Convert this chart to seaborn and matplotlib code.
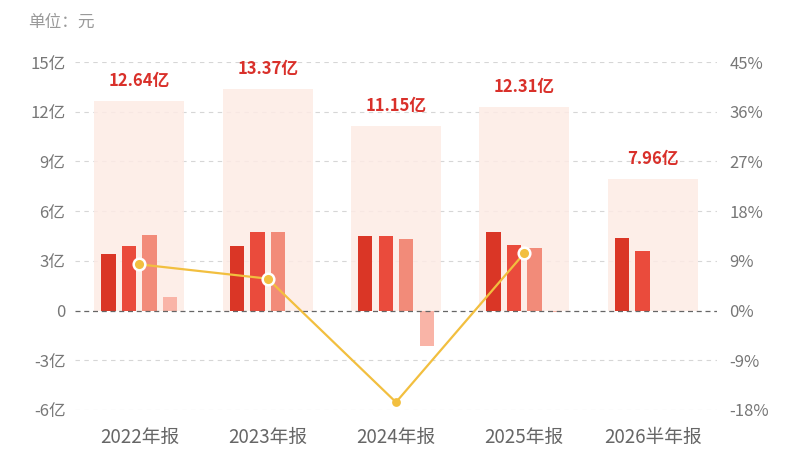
import matplotlib
matplotlib.use("Agg")
import matplotlib.pyplot as plt
import seaborn as sns
import numpy as np
import pandas as pd

# data (亿元 / %)
periods = ["2022年报", "2023年报", "2024年报", "2025年报", "2026半年报"]
totals = [12.64, 13.37, 11.15, 12.31, 7.96]
q1 = [3.41, 3.87, 4.51, 4.74, 4.37]
q2 = [3.88, 4.76, 4.49, 3.93, 3.59]
q3 = [4.54, 4.77, 4.30, 3.75, np.nan]
q4 = [0.81, -0.03, -2.15, -0.11, np.nan]
growth = [8.37, 5.78, -16.60, 10.40]

left_ticks = [-6, -3, 0, 3, 6, 9, 12, 15]
right_ticks = [-18, -9, 0, 9, 18, 27, 36, 45]

sns.set_theme(style="white")
plt.rcParams["font.family"] = ["Noto Sans CJK SC", "DejaVu Sans"]

quarters = ["Q1", "Q2", "Q3", "Q4"]
rows = []
for i, p in enumerate(periods):
    for qn, vals in zip(quarters, [q1, q2, q3, q4]):
        rows.append({"period": p, "quarter": qn, "value": vals[i]})
qdf = pd.DataFrame(rows)
tdf = pd.DataFrame({"period": periods, "total": totals})

fig = plt.figure(figsize=(8, 4.5), dpi=100)
ax = fig.add_axes([0.094, 0.089, 0.802, 0.773])

# grid
for t in left_ticks:
    if t == 0:
        continue
    ax.axhline(t, color="#d6d6d6", lw=0.8, ls=(0, (4, 4)), zorder=0.5)

# background totals
sns.barplot(data=tdf, x="period", y="total", color="#fdebe5", width=0.70,
            saturation=1, linewidth=0, alpha=0.85, ax=ax, zorder=1)

# quarterly bars
sns.barplot(data=qdf, x="period", y="value", hue="quarter",
            hue_order=quarters, palette=["#da3626", "#ea4b3c", "#f28b79", "#f9b4a7"],
            saturation=1, dodge=True, width=0.64, gap=0.3, linewidth=0,
            legend=False, ax=ax, zorder=2)

ax.axhline(0, color="#666666", lw=0.9, ls=(0, (4, 3)), zorder=3)

for i, v in enumerate(totals):
    ax.text(i, v + 1.2, f"{v:.2f}亿", ha="center", va="center",
            color="#d9302a", fontsize=12, fontweight="bold", zorder=5)

ax.set_xlim(-0.5, 4.5)
ax.set_ylim(-6, 15)
ax.set_yticks(left_ticks)
ax.set_yticklabels([("0" if t == 0 else f"{t}亿") for t in left_ticks])
ax.set_xlabel("")
ax.set_ylabel("")
ax.tick_params(axis="y", length=0, pad=7, labelsize=12, labelcolor="#777777")
ax.tick_params(axis="x", length=0, pad=12, labelsize=13.5, labelcolor="#666666")
for s in ax.spines.values():
    s.set_visible(False)

# growth line on right axis
ax2 = ax.twinx()
xs = np.arange(len(growth))
ax2.plot(xs, growth, color="#f2bf3f", lw=1.6, zorder=4)
ax2.scatter(xs[[0, 1, 3]], [growth[k] for k in (0, 1, 3)], s=70, color="#f2bf3f",
            edgecolor="white", linewidth=1.8, zorder=5)
ax2.scatter([xs[2]], [growth[2]], s=40, color="#f2bf3f", linewidth=0, zorder=5)
ax2.set_ylim(-18, 45)
ax2.set_yticks(right_ticks)
ax2.set_yticklabels([f"{t}%" for t in right_ticks])
ax2.tick_params(axis="y", length=0, pad=9, labelsize=12, labelcolor="#777777")
ax2.grid(False)
for s in ax2.spines.values():
    s.set_visible(False)

fig.text(0.035, 0.951, "单位：元", ha="left", va="center", fontsize=12, color="#999999")

fig.savefig("out.png", dpi=100)
